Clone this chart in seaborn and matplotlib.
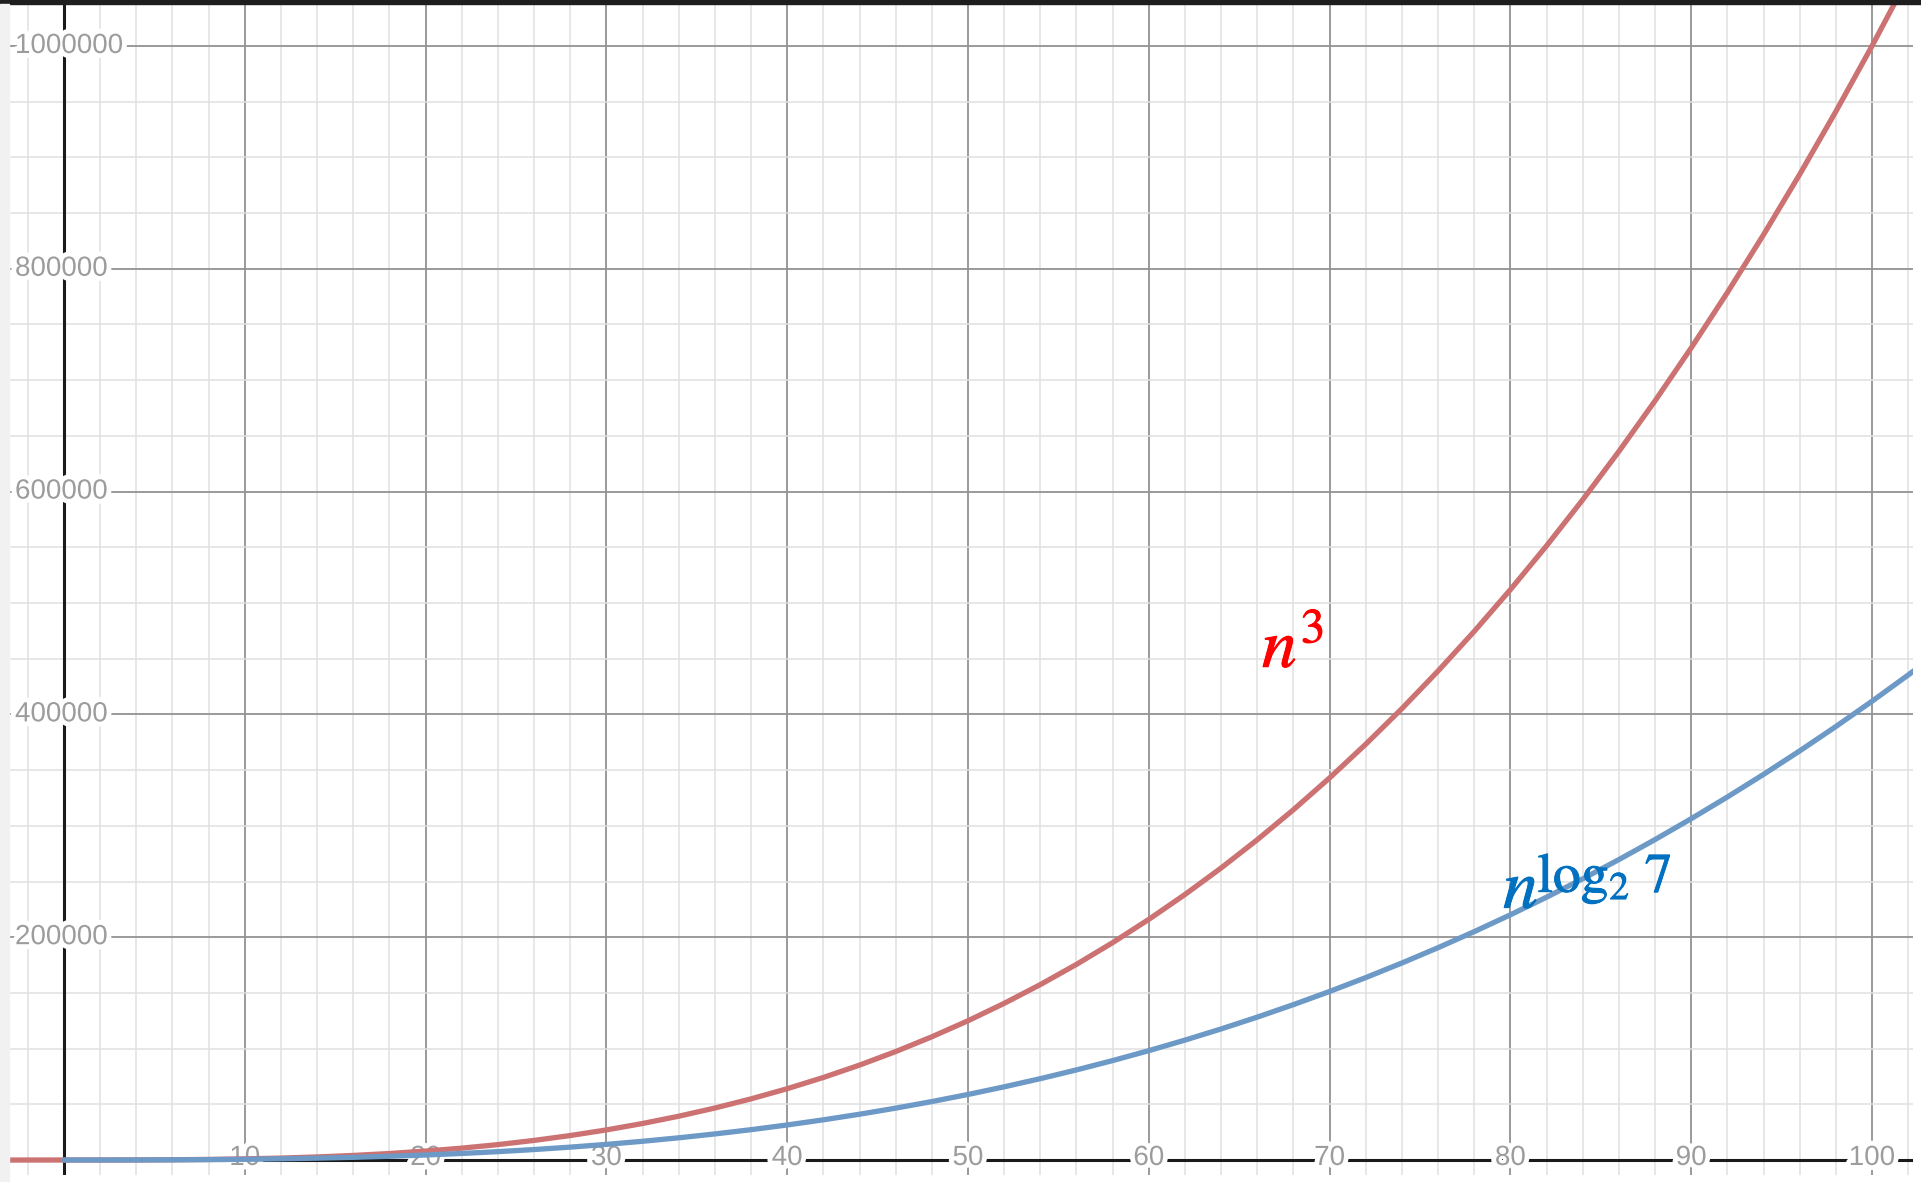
import matplotlib
matplotlib.use("Agg")
import matplotlib.pyplot as plt
import matplotlib.patheffects as pe
import seaborn as sns
import pandas as pd
from matplotlib.patches import Rectangle

# Curve samples, every 2 units of n
n_cubic = [-4, -2, 0, 2, 4, 6, 8, 10, 12, 14, 16, 18, 20, 22, 24, 26, 28, 30,
           32, 34, 36, 38, 40, 42, 44, 46, 48, 50, 52, 54, 56, 58, 60, 62, 64,
           66, 68, 70, 72, 74, 76, 78, 80, 82, 84, 86, 88, 90, 92, 94, 96, 98,
           100, 102, 104]
cubic_vals = [-64, -8, 0, 8, 64, 216, 512, 1000, 1728, 2744, 4096, 5832, 8000,
              10648, 13824, 17576, 21952, 27000, 32768, 39304, 46656, 54872,
              64000, 74088, 85184, 97336, 110592, 125000, 140608, 157464,
              175616, 195112, 216000, 238328, 262144, 287496, 314432, 343000,
              373248, 405224, 438976, 474552, 512000, 551368, 592704, 636056,
              681472, 729000, 778688, 830584, 884736, 941192, 1000000, 1061208,
              1124864]

n_strassen = [0, 2, 4, 6, 8, 10, 12, 14, 16, 18, 20, 22, 24, 26, 28, 30, 32,
              34, 36, 38, 40, 42, 44, 46, 48, 50, 52, 54, 56, 58, 60, 62, 64,
              66, 68, 70, 72, 74, 76, 78, 80, 82, 84, 86, 88, 90, 92, 94, 96,
              98, 100, 102, 104]
strassen_vals = [0, 7, 49, 153, 343, 642, 1071, 1650, 2401, 3342, 4492, 5870,
                 7494, 9383, 11552, 14021, 16807, 19925, 23393, 27227, 31444,
                 36060, 41091, 46552, 52460, 58830, 65677, 73018, 80867, 89239,
                 98149, 107614, 117649, 128260, 139473, 151298, 163749, 176842,
                 190590, 205007, 220110, 235908, 252418, 269656, 287635, 306365,
                 325865, 346144, 367221, 389106, 411811, 435352, 459746]

x_tick_labels = ["10", "20", "30", "40", "50", "60", "70", "80", "90", "100"]
x_tick_vals = [10, 20, 30, 40, 50, 60, 70, 80, 90, 100]
y_tick_labels = ["200000", "400000", "600000", "800000", "1000000"]
y_tick_vals = [200000, 400000, 600000, 800000, 1000000]

W, H = 1921, 1182
sns.set_theme(style="white")
plt.rcParams["mathtext.fontset"] = "stix"
fig = plt.figure(figsize=(W / 100, H / 100), dpi=100)
fig.patch.set_facecolor("white")

left_px, right_px, top_px, bottom_px = 9, 1913, 4, 1175
ax = fig.add_axes([left_px / W, 1 - bottom_px / H,
                   (right_px - left_px) / W, (bottom_px - top_px) / H])
ax.set_facecolor("white")

# Curves
df_c = pd.DataFrame({"n": n_cubic, "v": cubic_vals})
df_s = pd.DataFrame({"n": n_strassen, "v": strassen_vals})
sns.lineplot(data=df_c, x="n", y="v", ax=ax, color="#cc7272", linewidth=3.8,
             zorder=3, solid_capstyle="round", solid_joinstyle="round")
sns.lineplot(data=df_s, x="n", y="v", ax=ax, color="#6c99c6", linewidth=3.8,
             zorder=3.1, solid_capstyle="round", solid_joinstyle="round")
ax.set_xlabel("")
ax.set_ylabel("")

# Grid
ax.set_xticks(list(range(-10, 111, 10)))
ax.set_xticks(list(range(-10, 111, 2)), minor=True)
ax.set_yticks(list(range(-200000, 1200001, 200000)))
ax.set_yticks(list(range(-50000, 1100001, 50000)), minor=True)

x0_px, px_per_unit = 64, 18.08
y0_px, px_per_y = 1160, 1114 / 1e6
ax.set_xlim((left_px - x0_px) / px_per_unit, (right_px - x0_px) / px_per_unit)
ax.set_ylim((y0_px - bottom_px) / px_per_y, (y0_px - top_px) / px_per_y)

ax.grid(which="minor", color="#e0e0e0", linewidth=1.1, zorder=0)
ax.grid(which="major", color="#929292", linewidth=1.3, zorder=0.5)
ax.set_axisbelow(True)
ax.tick_params(which="both", length=0, labelbottom=False, labelleft=False)
for s in ax.spines.values():
    s.set_visible(False)

# Axes lines
ax.axhline(0, color="#1a1a1a", linewidth=2.2, zorder=1)
ax.axvline(0, color="#1a1a1a", linewidth=2.2, zorder=1)

halo = [pe.withStroke(linewidth=7, foreground="white")]
label_kw = dict(color="#9c9c9c", fontsize=20, family="Liberation Sans",
                path_effects=halo, zorder=2)
for v, t in zip(x_tick_vals, x_tick_labels):
    ax.text(v, 1800, t, ha="center", va="center", **label_kw)
for v, t in zip(y_tick_vals, y_tick_labels):
    ax.text((15 - left_px) / (right_px - left_px), v, t, ha="left", va="center",
            transform=ax.get_yaxis_transform(), **label_kw)
ax.text(-1.0, -25000, "0", ha="center", va="center", clip_on=True, **label_kw)

# Curve labels
red_fx = [pe.withStroke(linewidth=0.7, foreground="#ff0000")]
blue_fx = [pe.withStroke(linewidth=0.7, foreground="#0070c0")]
ax.text(66.26, 442500, r"$n^3$", color="#ff0000", fontsize=50,
        ha="left", va="baseline", zorder=4, path_effects=red_fx)
ax.text(79.6, 226000, r"$n$", color="#0070c0", fontsize=50,
        ha="left", va="baseline", zorder=4, path_effects=blue_fx)
ax.text(81.5, 240500, r"$\log_2\,7$", color="#0070c0", fontsize=40,
        ha="left", va="baseline", zorder=4, path_effects=blue_fx)

# Window frame
fig.patches.append(Rectangle((0, 1 - top_px / H), 1, top_px / H,
                             transform=fig.transFigure, color="#1e1e1e",
                             zorder=10))
fig.patches.append(Rectangle((0, 0), left_px / W, 1 - top_px / H,
                             transform=fig.transFigure, color="#f1f1f1",
                             zorder=10))

fig.savefig("out.png", dpi=100)
